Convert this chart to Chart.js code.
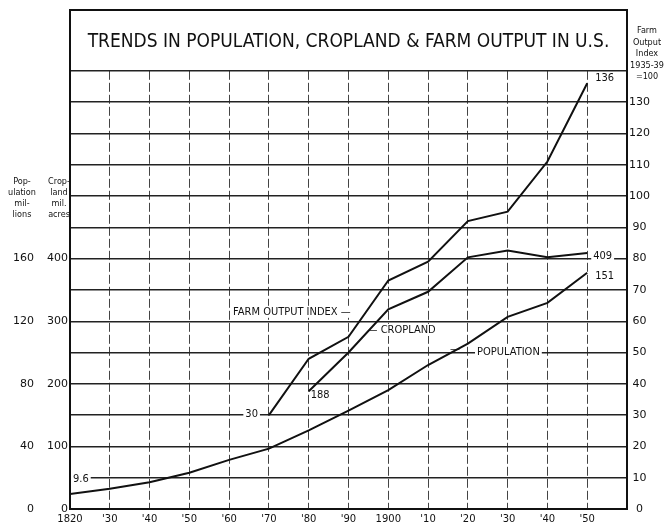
<!DOCTYPE html>
<html>
<head>
<meta charset="utf-8">
<title>Trends in population, cropland and farm output in U.S.</title>
<script src="https://cdn.jsdelivr.net/npm/chart.js@4.4.0/dist/chart.umd.min.js"></script>
<style>
body{margin:0;background:#fff}
canvas{display:block}
</style>
</head>
<body>
<canvas id="myChart" width="670" height="531"></canvas>
<script>
// census years and values
var popYears = [1820,1830,1840,1850,1860,1870,1880,1890,1900,1910,1920,1930,1940,1950]
var population = [9.6,12.9,17.1,23.2,31.4,38.6,50.2,62.9,76.0,92.0,105.7,122.8,131.7,151]

var cropYears = [1880,1890,1900,1910,1920,1930,1940,1950]
var cropland = [188,250,319,347,402,413,402,409]

var farmYears = [1870,1880,1890,1900,1910,1920,1930,1940,1950]
var farmIndex = [30,48,55,73,79,92,95,111,136]

// which tick values get a label
var popTicks = [0,40,80,120,160]
var cropTicks = [0,100,200,300,400]
var farmTicks = [0,10,20,30,40,50,60,70,80,90,100,110,120,130]

var narrow = "'Liberation Sans Narrow','DejaVu Sans Condensed','Arial Narrow',sans-serif"
var ink = '#111'

function pts(xs, ys){
	var out = []
	for (var i = 0; i < xs.length; i++) out.push({x: xs[i], y: ys[i]})
	return out
}

function decadeLabel(v){
	if (v == 1820 || v == 1900) return String(v)
	if (v > 1950) return ''
	return "'" + String(v).slice(2)
}

function only(list){
	return function(v){ return list.indexOf(v) >= 0 ? String(v) : '' }
}

function each(list, fn){
	for (var i = 0; i < list.length; i++) fn(list[i])
}

// leader labels sitting on the lines
var notes = [
	{text:'30', axis:'farm', x:1870, y:30, dx:-11, dy:-1, align:'right', bg:true},
	{text:'188', axis:'crop', x:1880, y:188, dx:2, dy:4, align:'left', bg:false},
	{text:'9.6', axis:'pop', x:1820, y:9.6, dx:3, dy:-15, align:'left', bg:true},
	{text:'136', axis:'farm', x:1950, y:136, dx:8, dy:-5, align:'left', bg:true},
	{text:'409', axis:'crop', x:1950, y:409, dx:6, dy:3, align:'left', bg:true},
	{text:'151', axis:'pop', x:1950, y:151, dx:8, dy:3, align:'left', bg:false},
	{text:'FARM OUTPUT INDEX \u2014', axis:'crop', x:1861, y:315, dx:0, dy:0, align:'left', bg:true},
	{text:'\u2014 CROPLAND', axis:'crop', x:1894.8, y:286, dx:0, dy:0, align:'left', bg:true},
	{text:'\u2014', axis:'crop', x:1915.5, y:255, dx:0, dy:0, align:'left', bg:false},
	{text:'POPULATION', axis:'crop', x:1922.3, y:251, dx:0, dy:0, align:'left', bg:true}
]

function notePlace(chart, c, n){
	var px = chart.scales.x.getPixelForValue(n.x) + n.dx
	var py = chart.scales[n.axis].getPixelForValue(n.y) + n.dy
	var w = c.measureText(n.text).width
	return {px: px, py: py, w: w, x0: n.align == 'right' ? px - w : px}
}

var decor = {
	id: 'decor',
	// white patches that break the grid behind the labels, under the lines
	beforeDatasetsDraw: function(chart){
		var c = chart.ctx
		c.save()
		c.font = '11px ' + narrow
		c.fillStyle = '#fff'
		each(notes, function(n){
			if (!n.bg) return
			var p = notePlace(chart, c, n)
			c.fillRect(p.x0 - 2, p.py - 6, p.w + 4, 12)
		})
		c.restore()
	},
	afterDraw: function(chart){
		var c = chart.ctx
		var a = chart.chartArea
		c.save()
		// frame round title and plot
		c.strokeStyle = ink
		c.lineWidth = 2
		c.strokeRect(a.left, 10, a.right - a.left, a.bottom - 10)

		c.fillStyle = ink
		c.textAlign = 'center'
		c.textBaseline = 'middle'
		c.font = '9px ' + narrow
		var left1 = ['Pop-','ulation','mil-','lions']
		var left2 = ['Crop-','land','mil.','acres']
		for (var i = 0; i < 4; i++){
			c.fillText(left1[i], 22, 182 + i*11)
			c.fillText(left2[i], 59, 182 + i*11)
		}
		var right = ['Farm','Output','Index','1935-39','=100']
		for (var j = 0; j < right.length; j++){
			c.fillText(right[j], 647, 31 + j*11.5)
		}

		c.font = '11px ' + narrow
		each(notes, function(n){
			var p = notePlace(chart, c, n)
			c.textAlign = n.align
			c.fillText(n.text, p.px, p.py)
		})
		c.restore()
	}
}

var lineStyle = {borderColor: ink, borderWidth: 2, pointRadius: 0, tension: 0, fill: false}

var mychart = document.getElementById("myChart").getContext('2d')

var chart = new Chart(mychart, {
	type: 'line',
	data: {
		datasets: [
			Object.assign({label: 'Population', data: pts(popYears, population), yAxisID: 'pop'}, lineStyle),
			Object.assign({label: 'Cropland', data: pts(cropYears, cropland), yAxisID: 'crop'}, lineStyle),
			Object.assign({label: 'Farm output index', data: pts(farmYears, farmIndex), yAxisID: 'farm'}, lineStyle)
		]
	},
	options: {
		responsive: false,
		animation: false,
		layout: {padding: {left: 0, right: 5, top: 0, bottom: 0}},
		plugins: {
			legend: {display: false},
			tooltip: {enabled: false},
			title: {
				display: true,
				fullSize: false,
				text: 'TRENDS IN POPULATION, CROPLAND & FARM OUTPUT IN U.S.',
				color: ink,
				font: {family: narrow, size: 19, weight: 'normal'},
				padding: {top: 31, bottom: 17}
			}
		},
		scales: {
			x: {
				type: 'linear', min: 1820, max: 1960,
				ticks: {stepSize: 10, autoSkip: false, maxRotation: 0, padding: 4, color: ink,
					font: {family: 'DejaVu Sans', size: 10}, callback: decadeLabel},
				grid: {color: '#444', lineWidth: 1, drawTicks: false},
				border: {display: false, dash: [9,3]},
				afterFit: function(s){ s.height = 22 }
			},
			pop: {
				position: 'left', weight: 1, min: 0, max: 280,
				ticks: {stepSize: 20, autoSkip: false, padding: 2, color: ink,
					font: {family: 'DejaVu Sans', size: 11}, callback: only(popTicks)},
				grid: {display: false, drawTicks: false},
				border: {display: false},
				afterFit: function(s){ s.width = 36 }
			},
			crop: {
				position: 'left', weight: 0, min: 0, max: 700,
				ticks: {stepSize: 50, autoSkip: false, padding: 2, color: ink,
					font: {family: 'DejaVu Sans', size: 11}, callback: only(cropTicks)},
				grid: {color: '#222', lineWidth: 1.4, drawTicks: false},
				border: {display: false},
				afterFit: function(s){ s.width = 34 }
			},
			farm: {
				position: 'right', min: 0, max: 140,
				ticks: {stepSize: 10, autoSkip: false, padding: 2, color: ink, crossAlign: 'center',
					font: {family: 'DejaVu Sans', size: 11}, callback: only(farmTicks)},
				grid: {display: false, drawTicks: false},
				border: {display: false},
				afterFit: function(s){ s.width = 38 }
			}
		}
	},
	plugins: [decor]
})
</script>
</body>
</html>
